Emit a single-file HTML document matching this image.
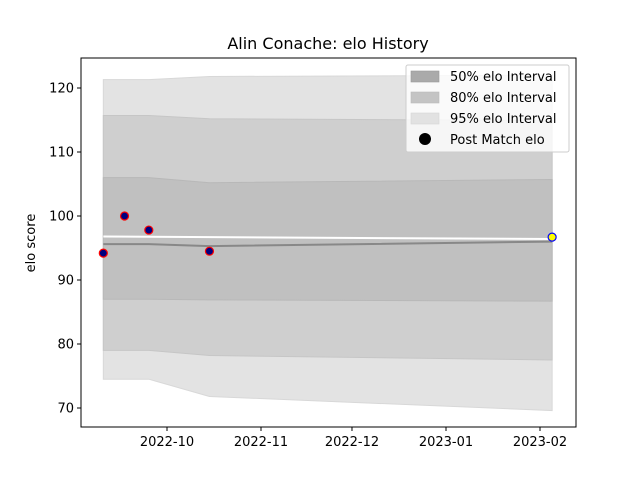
<!DOCTYPE html>
<html><head><meta charset="utf-8"><style>
body{margin:0;background:#fff;font-family:"Liberation Sans","DejaVu Sans",sans-serif}
</style></head><body>
<svg id="chart" width="640" height="480" xmlns="http://www.w3.org/2000/svg" font-family="DejaVu Sans, Liberation Sans, sans-serif">
<rect width="640" height="480" fill="#fff"/>
<text x="328" y="49" text-anchor="middle" font-size="16">Alin Conache: elo History</text>
<g id="plot"></g>
<rect x="81" y="58" width="495" height="369" fill="none" stroke="#000" stroke-width="1"/>
<text transform="translate(35,243) rotate(-90)" text-anchor="middle" font-size="13">elo score</text>
<g id="axes"></g>
<g>
<rect x="406" y="65" width="163" height="87" rx="2" fill="#fff" fill-opacity="0.8" stroke="#ccc"/>
<rect x="411" y="71" width="28" height="11" fill="#aaa" stroke="#999" stroke-width="0.6"/>
<text x="450" y="81" font-size="13">50% elo Interval</text>
<rect x="411" y="92" width="28" height="11" fill="#c4c4c4" stroke="#bbb" stroke-width="0.6"/>
<text x="450" y="102" font-size="13">80% elo Interval</text>
<rect x="411" y="113" width="28" height="11" fill="#e2e2e2" stroke="#d6d6d6" stroke-width="0.6"/>
<text x="450" y="123" font-size="13">95% elo Interval</text>
<circle cx="425" cy="139" r="6" fill="#000"/>
<text x="450" y="144" font-size="13">Post Match elo</text>
</g>
</svg>
<script>
const bandDays=[-21,-6,14,127];
const upper95=[121.3,121.3,121.8,122.0];
const lower95=[74.5,74.5,71.8,69.6];
const upper80=[115.7,115.7,115.2,114.9];
const lower80=[79.0,79.0,78.2,77.5];
const upper50=[106.0,106.0,105.2,105.7];
const lower50=[87.0,87.0,86.9,86.7];
const meanLine=[95.6,95.6,95.3,96.0];
const preLine=[96.8,96.4];
const pointDays=[-21,-14,-6,14,127];
const pointValues=[94.2,100.0,97.8,94.5,96.7];
const yTicks=[70,80,90,100,110,120];
const xTickDays=[0,31,61,92,123];
const xTickLabels=["2022-10","2022-11","2022-12","2023-01","2023-02"];

const NS="http://www.w3.org/2000/svg";
function X(d){return 167+d*3.0325;}
function Y(v){return 88+(120-v)*6.4;}
const plot=document.getElementById('plot'),axes=document.getElementById('axes');
function mk(tag,attrs,parent){const e=document.createElementNS(NS,tag);for(const k in attrs)e.setAttribute(k,attrs[k]);parent.appendChild(e);return e;}
function band(up,lo,fill,stroke,name){
  let d='M'+bandDays.map((t,i)=>X(t)+','+Y(up[i])).join('L');
  for(let i=bandDays.length-1;i>=0;i--)d+='L'+X(bandDays[i])+','+Y(lo[i]);
  const p=mk('path',{d:d+'Z',fill:fill,stroke:stroke,'stroke-width':1},plot);
  
  
}
band(upper95,lower95,'#e3e3e3','#d8d8d8','band-95');
band(upper80,lower80,'#cfcfcf','#c6c6c6','band-80');
band(upper50,lower50,'#c0c0c0','#b8b8b8','band-50');
const ml=mk('polyline',{points:bandDays.map((t,i)=>X(t)+','+Y(meanLine[i])).join(' '),fill:'none',stroke:'#888','stroke-width':2},plot);


const pl=mk('line',{x1:X(pointDays[0]),y1:Y(preLine[0]),x2:X(pointDays[pointDays.length-1]),y2:Y(preLine[1]),stroke:'#fff','stroke-width':2},plot);


pointDays.forEach((t,i)=>{
  const last=i===pointDays.length-1;
  const c=mk('circle',{cx:X(t),cy:Y(pointValues[i]),r:4,fill:last?'#ffff00':'#00007f',stroke:last?'#0000ff':'#ff0000','stroke-width':1.2},plot);
  
  
});
yTicks.forEach(v=>{
  mk('line',{x1:77,x2:81,y1:Y(v),y2:Y(v),stroke:'#000'},axes);
  const t=mk('text',{x:74,y:Y(v)+4.5,'text-anchor':'end','font-size':13},axes);
  t.textContent=v;
  
  
});
xTickDays.forEach((d,i)=>{
  mk('line',{x1:X(d),x2:X(d),y1:427,y2:431,stroke:'#000'},axes);
  const t=mk('text',{x:X(d),y:446,'text-anchor':'middle','font-size':13},axes);
  t.textContent=xTickLabels[i];
  
  
});
</script>
</body></html>
